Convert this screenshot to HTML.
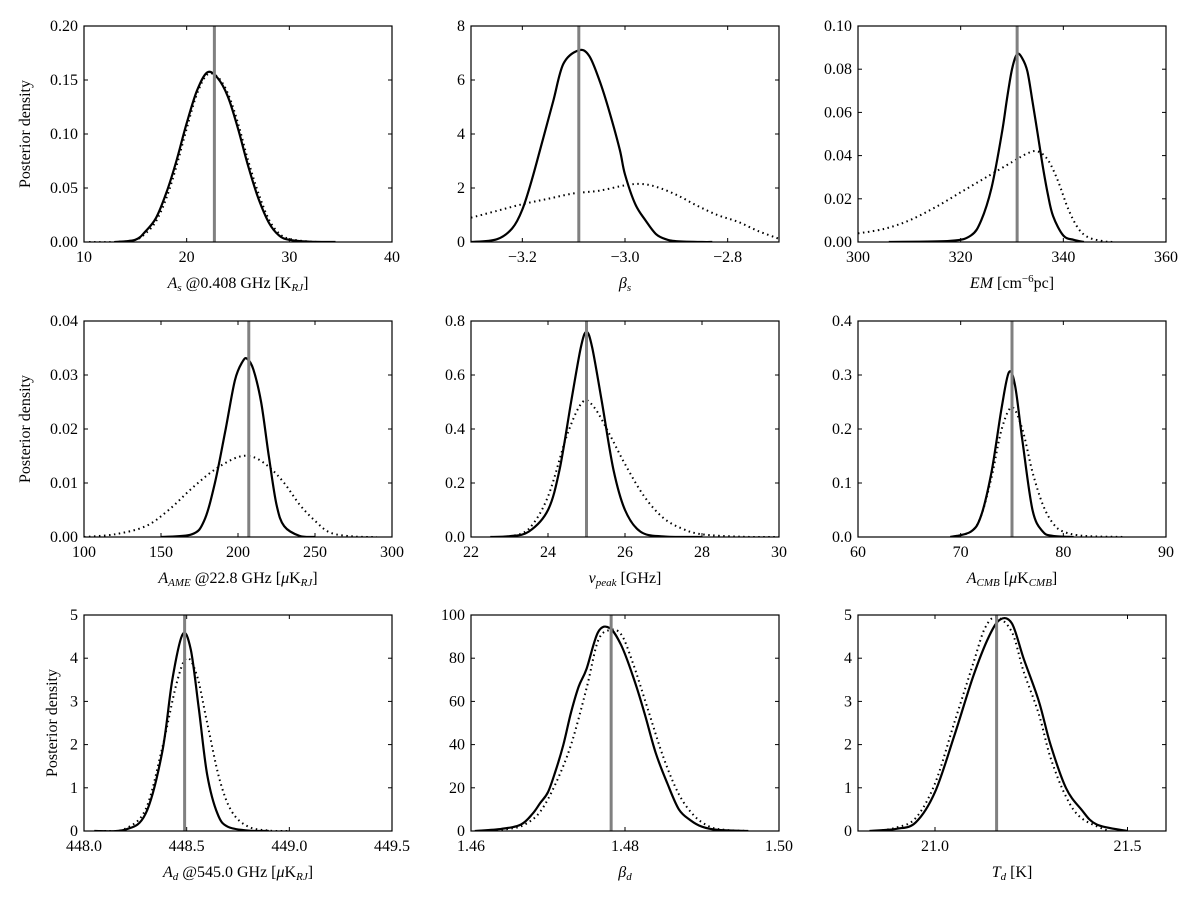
<!DOCTYPE html>
<html><head><meta charset="utf-8">
<style>
body{margin:0;background:#fff;}
svg text{font-family:"Liberation Serif","DejaVu Serif",serif;fill:#000;}
</style></head>
<body>
<svg id="fig" width="1200" height="900" viewBox="0 0 1200 900" xmlns="http://www.w3.org/2000/svg">
<rect width="1200" height="900" fill="#fff"/>
</svg>
<script>
// Panel 1: A_s
const p1SolidX=[13,15,16,17,18,19,20,21,22,23,24,25,26,27,28,29,30,32,34.5];
const p1SolidY=[0,0.002,0.01,0.022,0.045,0.075,0.11,0.14,0.157,0.152,0.135,0.105,0.07,0.04,0.018,0.006,0.002,0.0003,0];
const p1DotX=[10.5,13,15,16,17,18,19,20,21,22,23,24,25,26,27,28,29,30,32,34];
const p1DotY=[0,0,0.002,0.008,0.019,0.04,0.07,0.105,0.137,0.155,0.153,0.138,0.11,0.075,0.045,0.021,0.008,0.003,0.0003,0];
// Panel 2: beta_s
const p2SolidX=[-3.3,-3.25,-3.22,-3.2,-3.18,-3.16,-3.14,-3.12,-3.09,-3.07,-3.05,-3.03,-3.01,-3.0,-2.98,-2.96,-2.94,-2.92,-2.9,-2.85,-2.83];
const p2SolidY=[0,0.1,0.5,1.2,2.4,3.8,5.2,6.6,7.1,6.9,6.0,4.8,3.4,2.5,1.4,0.8,0.3,0.1,0.03,0,0];
const p2DotX=[-3.3,-3.25,-3.2,-3.15,-3.1,-3.05,-3.0,-2.97,-2.94,-2.9,-2.86,-2.82,-2.78,-2.74,-2.7];
const p2DotY=[0.9,1.15,1.4,1.6,1.8,1.9,2.1,2.15,2.05,1.75,1.35,1.0,0.75,0.4,0.12];
// Panel 3: EM
const p3SolidX=[306,318,322,324,326,328,329,330,331,332,333,334,335,336,337,338,340,342,344];
const p3SolidY=[0,0.0005,0.003,0.01,0.025,0.05,0.066,0.08,0.087,0.085,0.079,0.065,0.05,0.035,0.022,0.012,0.003,0.001,0];
const p3DotX=[300,305,310,315,320,325,330,333,335,337,339,341,343,345,348,350];
const p3DotY=[0.004,0.006,0.01,0.016,0.023,0.03,0.037,0.041,0.042,0.038,0.028,0.015,0.006,0.002,0.0003,0];
// Panel 4: A_AME
const p4SolidX=[150,170,178,185,192,198,203,206,210,215,220,225,230,240,250];
const p4SolidY=[0,0.0005,0.003,0.01,0.02,0.029,0.0325,0.033,0.031,0.025,0.015,0.006,0.002,0.0002,0];
const p4DotX=[100,120,140,155,170,185,200,210,220,230,240,250,260,275,290];
const p4DotY=[0,0.0005,0.002,0.005,0.009,0.0125,0.0148,0.0148,0.013,0.01,0.006,0.003,0.0008,0.0001,0];
// Panel 5: nu_peak
const p5SolidX=[22.5,23,23.5,24,24.3,24.6,24.85,25,25.15,25.4,25.7,26,26.4,27,28];
const p5SolidY=[0,0.003,0.02,0.1,0.25,0.5,0.7,0.76,0.7,0.5,0.25,0.1,0.02,0.002,0];
const p5DotX=[23,23.5,24,24.5,24.9,25.2,25.6,26,26.5,27,27.5,28,29,30];
const p5DotY=[0.002,0.03,0.15,0.38,0.5,0.48,0.38,0.27,0.15,0.07,0.03,0.01,0.001,0];
// Panel 6: A_CMB
const p6SolidX=[69,71,72,73,74,74.7,75.3,76,77,78,79,81];
const p6SolidY=[0,0.01,0.04,0.12,0.24,0.305,0.28,0.18,0.05,0.01,0.002,0];
const p6DotX=[69,71,72,73,74,75,76,77,78,79,80,82,86];
const p6DotY=[0,0.01,0.04,0.11,0.2,0.24,0.2,0.12,0.06,0.025,0.01,0.002,0];
// Panel 7: A_d
const p7SolidX=[448.05,448.2,448.3,448.38,448.43,448.48,448.52,448.56,448.6,448.65,448.7,448.8,448.9];
const p7SolidY=[0,0.03,0.4,1.8,3.5,4.55,4.2,2.8,1.3,0.4,0.1,0.01,0];
const p7DotX=[448.1,448.2,448.3,448.38,448.45,448.5,448.55,448.6,448.66,448.72,448.8,448.9,449];
const p7DotY=[0,0.05,0.5,1.9,3.4,4.0,3.6,2.5,1.2,0.45,0.1,0.01,0];
// Panel 8: beta_d
const p8SolidX=[1.4605,1.464,1.4665,1.468,1.469,1.470,1.471,1.472,1.473,1.474,1.475,1.4765,1.478,1.4795,1.481,1.4825,1.484,1.4855,1.487,1.4885,1.490,1.492,1.496];
const p8SolidY=[0,1,3,8,13,18,28,40,55,67,75,92,94,86,72,55,36,22,10,5,2,0.5,0];
const p8DotX=[1.462,1.465,1.467,1.469,1.471,1.473,1.475,1.4765,1.478,1.4795,1.481,1.483,1.485,1.487,1.489,1.491,1.493,1.496];
const p8DotY=[0,1,3,9,22,40,66,88,93,91,78,56,34,17,7,2,0.5,0];
// Panel 9: T_d
const p9SolidX=[20.83,20.9,20.95,21.0,21.05,21.1,21.14,21.17,21.2,21.23,21.27,21.3,21.34,21.38,21.42,21.5];
const p9SolidY=[0,0.05,0.2,0.9,2.2,3.6,4.5,4.9,4.8,4.0,3.0,2.0,1.0,0.5,0.15,0];
const p9DotX=[20.85,20.9,20.95,21.0,21.05,21.1,21.13,21.16,21.2,21.23,21.27,21.3,21.34,21.38,21.45];
const p9DotY=[0,0.08,0.3,1.1,2.5,3.9,4.7,4.95,4.6,3.7,2.7,1.7,0.8,0.3,0];
// Truth values
const truths=[22.7,-3.09,331,207,25.0,75.0,448.49,1.4782,21.16];
// Tick labels
const xTicks=[[10,20,30,40],[-3.2,-3.0,-2.8],[300,320,340,360],[100,150,200,250,300],[22,24,26,28,30],[60,70,80,90],[448.0,448.5,449.0,449.5],[1.46,1.48,1.50],[21.0,21.5]];
const xTickLabels=[["10","20","30","40"],["\u22123.2","\u22123.0","\u22122.8"],["300","320","340","360"],["100","150","200","250","300"],["22","24","26","28","30"],["60","70","80","90"],["448.0","448.5","449.0","449.5"],["1.46","1.48","1.50"],["21.0","21.5"]];
const yTicks=[[0,0.05,0.1,0.15,0.2],[0,2,4,6,8],[0,0.02,0.04,0.06,0.08,0.1],[0,0.01,0.02,0.03,0.04],[0,0.2,0.4,0.6,0.8],[0,0.1,0.2,0.3,0.4],[0,1,2,3,4,5],[0,20,40,60,80,100],[0,1,2,3,4,5]];
const yTickLabels=[["0.00","0.05","0.10","0.15","0.20"],["0","2","4","6","8"],["0.00","0.02","0.04","0.06","0.08","0.10"],["0.00","0.01","0.02","0.03","0.04"],["0.0","0.2","0.4","0.6","0.8"],["0.0","0.1","0.2","0.3","0.4"],["0","1","2","3","4","5"],["0","20","40","60","80","100"],["0","1","2","3","4","5"]];
const xLims=[[10,40],[-3.3,-2.7],[300,360],[100,300],[22,30],[60,90],[448,449.5],[1.46,1.5],[20.8,21.6]];
const yLims=[[0,0.2],[0,8],[0,0.1],[0,0.04],[0,0.8],[0,0.4],[0,5],[0,100],[0,5]];
const xLabels=[
 '<tspan font-style="italic">A</tspan><tspan font-style="italic" font-size="11" dy="3">s</tspan><tspan dy="-3"> @0.408 GHz [K</tspan><tspan font-style="italic" font-size="11" dy="3">RJ</tspan><tspan dy="-3">]</tspan>',
 '<tspan font-style="italic">β</tspan><tspan font-style="italic" font-size="11" dy="3">s</tspan>',
 '<tspan font-style="italic">EM</tspan><tspan> [cm</tspan><tspan font-size="11" dy="-6">−6</tspan><tspan dy="6">pc]</tspan>',
 '<tspan font-style="italic">A</tspan><tspan font-style="italic" font-size="11" dy="3">AME</tspan><tspan dy="-3"> @22.8 GHz [</tspan><tspan font-style="italic">μ</tspan><tspan>K</tspan><tspan font-style="italic" font-size="11" dy="3">RJ</tspan><tspan dy="-3">]</tspan>',
 '<tspan font-style="italic">ν</tspan><tspan font-style="italic" font-size="11" dy="3">peak</tspan><tspan dy="-3"> [GHz]</tspan>',
 '<tspan font-style="italic">A</tspan><tspan font-style="italic" font-size="11" dy="3">CMB</tspan><tspan dy="-3"> [</tspan><tspan font-style="italic">μ</tspan><tspan>K</tspan><tspan font-style="italic" font-size="11" dy="3">CMB</tspan><tspan dy="-3">]</tspan>',
 '<tspan font-style="italic">A</tspan><tspan font-style="italic" font-size="11" dy="3">d</tspan><tspan dy="-3"> @545.0 GHz [</tspan><tspan font-style="italic">μ</tspan><tspan>K</tspan><tspan font-style="italic" font-size="11" dy="3">RJ</tspan><tspan dy="-3">]</tspan>',
 '<tspan font-style="italic">β</tspan><tspan font-style="italic" font-size="11" dy="3">d</tspan>',
 '<tspan font-style="italic">T</tspan><tspan font-style="italic" font-size="11" dy="3">d</tspan><tspan dy="-3"> [K]</tspan>'
];
const solids=[[p1SolidX,p1SolidY],[p2SolidX,p2SolidY],[p3SolidX,p3SolidY],[p4SolidX,p4SolidY],[p5SolidX,p5SolidY],[p6SolidX,p6SolidY],[p7SolidX,p7SolidY],[p8SolidX,p8SolidY],[p9SolidX,p9SolidY]];
const dots=[[p1DotX,p1DotY],[p2DotX,p2DotY],[p3DotX,p3DotY],[p4DotX,p4DotY],[p5DotX,p5DotY],[p6DotX,p6DotY],[p7DotX,p7DotY],[p8DotX,p8DotY],[p9DotX,p9DotY]];

const svg=document.getElementById('fig');
const NS='http://www.w3.org/2000/svg';
const colL=[84,471,858], rowT=[26,321,615], W=308, H=216;
function mk(tag,attrs,parent){const e=document.createElementNS(NS,tag);for(const k in attrs)e.setAttribute(k,attrs[k]);parent.appendChild(e);return e;}
function smoothPath(pts){
  let d='M'+pts[0][0].toFixed(1)+','+pts[0][1].toFixed(1);
  for(let i=0;i<pts.length-1;i++){
    const p0=pts[Math.max(0,i-1)],p1=pts[i],p2=pts[i+1],p3=pts[Math.min(pts.length-1,i+2)];
    const c1=[p1[0]+(p2[0]-p0[0])/6,p1[1]+(p2[1]-p0[1])/6];
    const c2=[p2[0]-(p3[0]-p1[0])/6,p2[1]-(p3[1]-p1[1])/6];
    d+='C'+c1[0].toFixed(1)+','+c1[1].toFixed(1)+' '+c2[0].toFixed(1)+','+c2[1].toFixed(1)+' '+p2[0].toFixed(1)+','+p2[1].toFixed(1);
  }
  return d;
}
for(let i=0;i<9;i++){
  const L=colL[i%3],T=rowT[Math.floor(i/3)],B=T+H,R=L+W;
  const xs=v=>L+(v-xLims[i][0])/(xLims[i][1]-xLims[i][0])*W;
  const ys=v=>B-(v-yLims[i][0])/(yLims[i][1]-yLims[i][0])*H;
  const g=mk('g',{},svg);
  
  
  const clipId='clip'+i;
  const cp=mk('clipPath',{id:clipId},g);mk('rect',{x:L,y:T,width:W,height:H},cp);
  xTicks[i].forEach((t,k)=>{
    const x=xs(t);
    mk('line',{x1:x,y1:B,x2:x,y2:B-4,stroke:'#000','stroke-width':1},g);
    mk('line',{x1:x,y1:T,x2:x,y2:T+4,stroke:'#000','stroke-width':1},g);
    const tx=mk('text',{x:x,y:B+20,'font-size':16,'text-anchor':'middle'},g);
    tx.textContent=xTickLabels[i][k];
    
    
  });
  yTicks[i].forEach((t,k)=>{
    const y=ys(t);
    mk('line',{x1:L,y1:y,x2:L+4,y2:y,stroke:'#000','stroke-width':1},g);
    mk('line',{x1:R,y1:y,x2:R-4,y2:y,stroke:'#000','stroke-width':1},g);
    const tx=mk('text',{x:L-6,y:y+5,'font-size':16,'text-anchor':'end'},g);
    tx.textContent=yTickLabels[i][k];
    
    
  });
  const dp=mk('path',{d:smoothPath(dots[i][0].map((x,k)=>[xs(x),ys(dots[i][1][k])])),fill:'none',stroke:'#000','stroke-width':2,'stroke-dasharray':'1.5,3.5','clip-path':'url(#'+clipId+')'},g);
  
  
  const sp=mk('path',{d:smoothPath(solids[i][0].map((x,k)=>[xs(x),ys(solids[i][1][k])])),fill:'none',stroke:'#000','stroke-width':2.2,'clip-path':'url(#'+clipId+')'},g);
  
  
  const tl=mk('line',{x1:xs(truths[i]),y1:T,x2:xs(truths[i]),y2:B,stroke:'#808080','stroke-width':3},g);
  
  
  const fr=mk('rect',{x:L,y:T,width:W,height:H,fill:'none',stroke:'#000','stroke-width':1.2},g);
  
  
  const xl=mk('text',{x:L+W/2,y:B+46,'font-size':16,'text-anchor':'middle'},g);
  xl.innerHTML=xLabels[i];
  
  
  if(i%3===0){
    const yx=(i===6)?57:30;
    const yl=mk('text',{x:yx,y:T+H/2,'font-size':16,'text-anchor':'middle',transform:'rotate(-90 '+yx+' '+(T+H/2)+')'},g);
    yl.textContent='Posterior density';
    
    
  }
}
</script>
</body></html>
